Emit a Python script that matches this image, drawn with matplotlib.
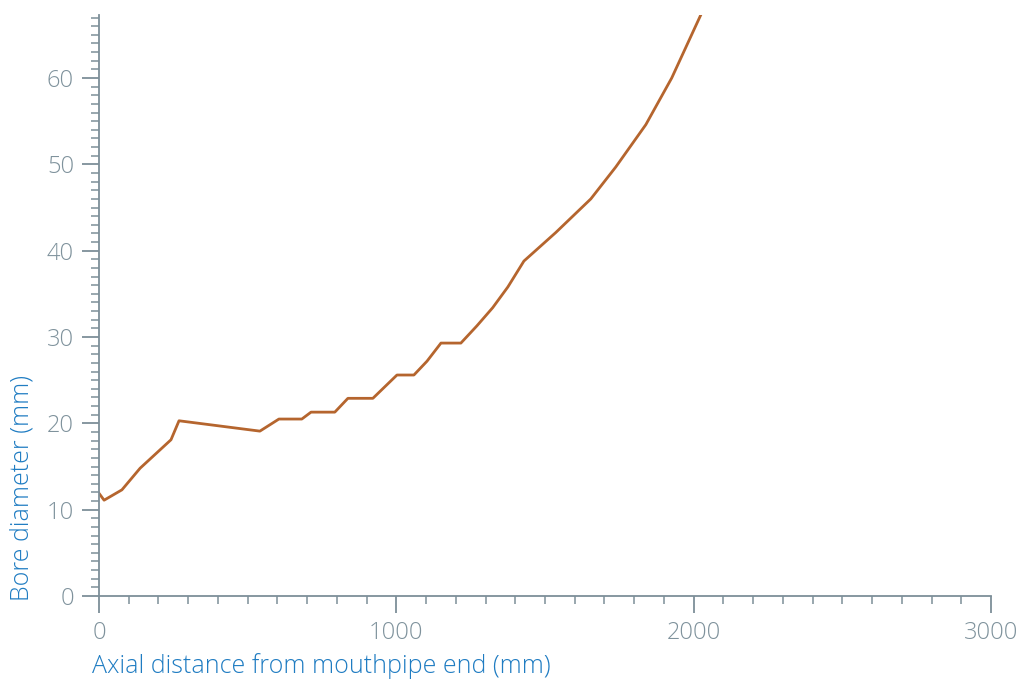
import matplotlib.pyplot as plt
from matplotlib.ticker import MultipleLocator

# Bore profile, axial distance (mm) vs diameter (mm)
distance_mm = [0, 17, 77, 138, 242, 269, 541, 605, 682, 713, 793, 837, 921,
               1002, 1059, 1103, 1150, 1217, 1271, 1324, 1375, 1429, 1536,
               1654, 1738, 1839, 1926, 2025]
diameter_mm = [11.9, 11.1, 12.3, 14.8, 18.1, 20.3, 19.1, 20.5, 20.5, 21.3,
               21.3, 22.9, 22.9, 25.6, 25.6, 27.2, 29.3, 29.3, 31.3, 33.4,
               35.8, 38.8, 42.1, 46.0, 49.7, 54.6, 60.0, 67.4]

axis_col = "#7d8f99"
tick_col = "#7f929c"
label_col = "#1f7cc2"
line_col = "#b5652e"

plt.rcParams["font.family"] = ["Open Sans", "DejaVu Sans"]

fig = plt.figure(figsize=(10.22, 6.79), dpi=100)
ax = fig.add_axes([0.0969, 0.1222, 0.8728, 0.8557])

ax.plot(distance_mm, diameter_mm, color=line_col, lw=2.0, clip_on=True)

ax.set_xlim(0, 3000)
ax.set_ylim(0, 67.3)
ax.xaxis.set_major_locator(MultipleLocator(1000))
ax.xaxis.set_minor_locator(MultipleLocator(100))
ax.yaxis.set_major_locator(MultipleLocator(10))
ax.yaxis.set_minor_locator(MultipleLocator(1))

for side in ("top", "right"):
    ax.spines[side].set_visible(False)
for side in ("left", "bottom"):
    ax.spines[side].set_color(axis_col)
    ax.spines[side].set_linewidth(1.3)

ax.tick_params(which="major", length=12, width=1.3, color=axis_col,
               labelcolor=tick_col, labelsize=17, pad=6)
ax.tick_params(which="minor", length=6, width=1.1, color=axis_col)
for lbl in ax.get_xticklabels() + ax.get_yticklabels():
    lbl.set_fontweight("light")

fig.text(0.090, 0.0, "Axial distance from mouthpipe end (mm)", color=label_col,
         fontsize=18, fontweight="light", ha="left", va="bottom")
fig.text(0.022, 0.115, "Bore diameter (mm)", color=label_col, fontsize=18,
         fontweight="light", rotation=90, ha="center", va="bottom")

fig.savefig("out.png", dpi=100)
